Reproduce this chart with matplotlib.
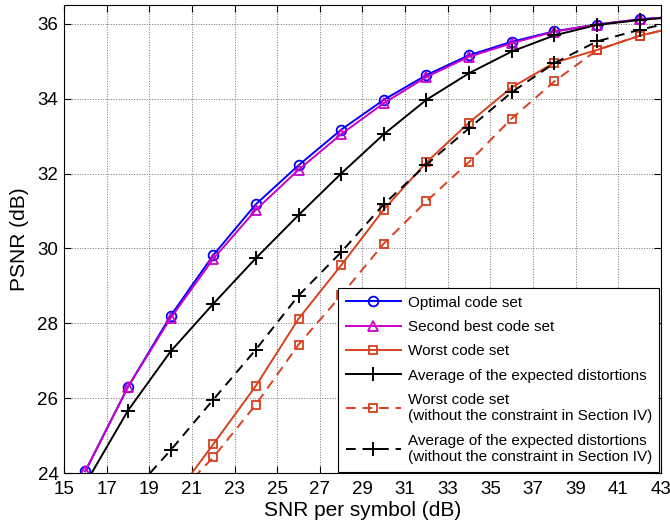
import numpy as np
import matplotlib
matplotlib.use("Agg")
import matplotlib.pyplot as plt

plt.rcParams['font.family'] = ['Liberation Sans', 'DejaVu Sans']

# SNR per symbol (dB)
snr_all = [16, 18, 20, 22, 24, 26, 28, 30, 32, 34, 36, 38, 40, 42, 44]
snr_from18 = snr_all[1:]
snr_from20 = snr_all[2:]

# PSNR (dB)
optimal = [24.05, 26.30, 28.20, 29.82, 31.18, 32.22, 33.17, 33.97, 34.63,
           35.16, 35.52, 35.80, 35.98, 36.12, 36.20]
second_best = [24.05, 26.30, 28.14, 29.72, 31.03, 32.10, 33.05, 33.88, 34.58,
               35.12, 35.48, 35.79, 35.98, 36.12, 36.20]
worst = [23.23, 24.77, 26.33, 28.12, 29.55, 31.04, 32.30, 33.36, 34.30,
         34.96, 35.30, 35.68, 35.95]
average = [23.71, 25.67, 27.25, 28.52, 29.74, 30.89, 32.00, 33.05, 33.97,
           34.68, 35.26, 35.69, 35.97, 36.10, 36.20]
worst_nc = [23.25, 24.42, 25.83, 27.43, 28.75, 30.13, 31.26, 32.31, 33.47,
            34.46, 35.30, 35.68, 35.95]
average_nc = [23.35, 24.61, 25.96, 27.30, 28.74, 29.90, 31.18, 32.24, 33.21,
              34.17, 34.95, 35.53, 35.84, 36.10]

red = '#D8401E'
magenta = '#C800C8'
dash = (5, 3.5)

fig = plt.figure(figsize=(6.7, 5.31), dpi=100)
ax = fig.add_axes([0.0955, 0.109, 0.891, 0.8815])

ax.plot(snr_all, optimal, color='blue', lw=1.4, marker='o', ms=7,
        mfc='none', mew=1.3, label='Optimal code set')
ax.plot(snr_all, second_best, color=magenta, lw=1.4, marker='^', ms=7,
        mfc='none', mew=1.3, label='Second best code set')
ax.plot(snr_from20, worst, color=red, lw=1.4, marker='s', ms=6,
        mfc='none', mew=1.3, label='Worst code set')
ax.plot(snr_all, average, color='black', lw=1.4, marker='+', ms=10,
        mew=1.4, label='Average of the expected distortions')
ax.plot(snr_from20, worst_nc, color=red, lw=1.4, ls='--', dashes=dash,
        marker='s', ms=6, mfc='none', mew=1.3,
        label='Worst code set\n(without the constraint in Section IV)')
ax.plot(snr_from18, average_nc, color='black', lw=1.4, ls='--', dashes=dash,
        marker='+', ms=10, mew=1.4,
        label='Average of the expected distortions\n(without the constraint in Section IV)')

ax.set_xlim(15, 43)
ax.set_ylim(24, 36.5)
ax.set_xticks(np.arange(15, 44, 2))
ax.set_yticks(np.arange(24, 37, 2))
ax.tick_params(direction='in', top=True, right=True, length=5, width=0.8,
               labelsize=13.5)
ax.tick_params(axis='x', pad=6)
ax.tick_params(axis='y', pad=4)
ax.grid(True, ls=':', color='0.45', lw=0.7)
for s in ax.spines.values():
    s.set_linewidth(0.8)

ax.set_xlabel('SNR per symbol (dB)', fontsize=15, labelpad=2)
ax.set_ylabel('PSNR (dB)', fontsize=15, labelpad=6)

leg = ax.legend(loc='lower right', fontsize=11, fancybox=False,
                edgecolor='black', framealpha=1, handlelength=3.6,
                handletextpad=0.45, borderaxespad=0.1, labelspacing=0.68,
                borderpad=0.5)
leg.get_frame().set_linewidth(0.8)

fig.savefig('out.png', dpi=100)
